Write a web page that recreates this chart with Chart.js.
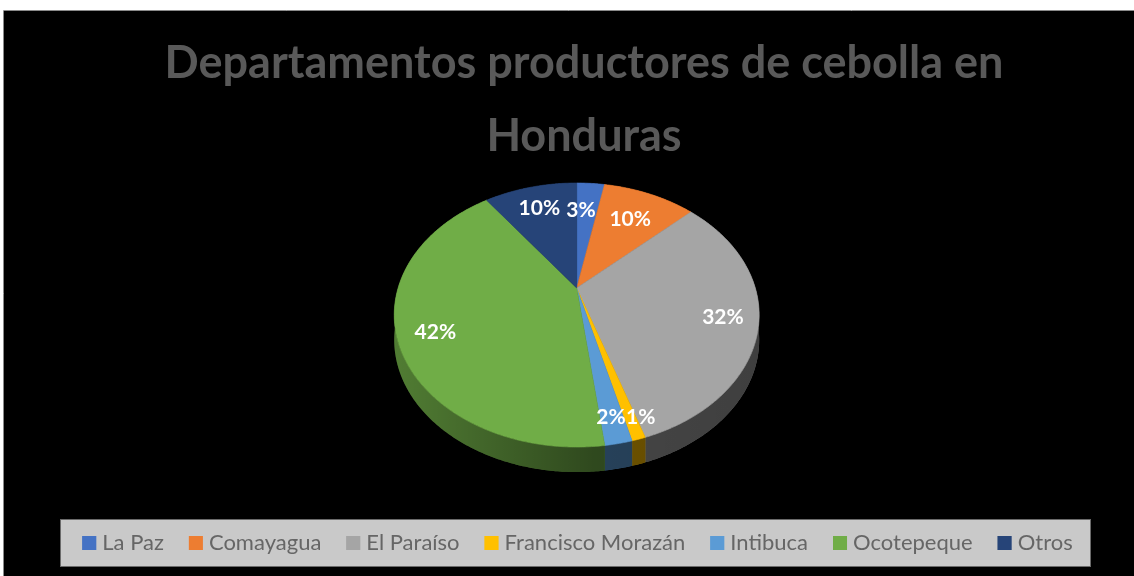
<!DOCTYPE html>
<html>
<head>
<meta charset="utf-8">
<style>
html,body{margin:0;padding:0;background:#fff;overflow:hidden}
#wrap{width:1134px;height:576px;position:relative}
canvas{display:block;filter:blur(0.55px)}
</style>
<script src="https://cdn.jsdelivr.net/npm/chart.js@4/dist/chart.umd.min.js"></script>
</head>
<body>
<div id="wrap"><canvas id="c" width="1134" height="576"></canvas></div>
<script>
const categories = ['La Paz','Comayagua','El Paraíso','Francisco Morazán','Intibuca','Ocotepeque','Otros'];
const values = [3,10,32,1,2,42,10];
const titleLines = ['Departamentos productores de cebolla en','Honduras'];
const colours = ['#4472C4','#ED7D31','#A5A5A5','#FFC000','#5B9BD5','#70AD47','#264478'];
const labelRadius = [0.70,0.70,0.80,0.92,0.85,0.80,0.78];
const labelNudge = [[-6,-1],[0,0],[2,3],[8,-7],[0,2],[0,5],[0,2]];

const P = {cx:576.7, cy:288, a:178.6, b:126.5, k:0.2046, depth:25};
function proj(theta, r){
  const u = Math.sin(theta)*r, v = -Math.cos(theta)*r, w = 1 - P.k*v;
  return [P.cx + P.a*u/w, P.cy + P.b*v/w];
}
function edge(arc){
  const s = arc.startAngle + Math.PI/2, e = arc.endAngle + Math.PI/2;
  const n = Math.max(4, Math.ceil((e-s)/0.01)), pts = [];
  for(let i=0;i<=n;i++) pts.push(proj(s+(e-s)*i/n,1));
  return pts;
}
const perspectivePie = {
  id:'perspectivePie',
  beforeDraw(chart){
    const c = chart.ctx;
    c.save();
    c.fillStyle='#ffffff'; c.fillRect(0,0,1134,576);
    c.fillStyle='#000000'; c.fillRect(4,11,1130,565);
    c.strokeStyle='#8a8a8a'; c.lineWidth=1;
    c.beginPath(); c.moveTo(3.5,576); c.lineTo(3.5,10.5); c.lineTo(1134,10.5); c.stroke();
    c.fillStyle='#C9C9C9'; c.fillRect(60,519,1031,48);
    c.strokeStyle='#6a6a6a'; c.strokeRect(60.5,519.5,1030,47);
    c.restore();
  },
  afterLayout(chart){
    chart.titleBlock.left += 34;
    chart.legend.left += 21;
  },
  beforeDatasetsDraw(chart){
    const c = chart.ctx, arcs = chart.getDatasetMeta(0).data;
    c.save();
    const shade = c.createLinearGradient(393,0,760,0);
    shade.addColorStop(0,'rgba(0,0,0,0.28)');
    shade.addColorStop(0.55,'rgba(0,0,0,0.58)');
    shade.addColorStop(1,'rgba(0,0,0,0.62)');
    arcs.forEach((arc,i)=>{
      const pts = edge(arc);
      c.beginPath();
      pts.forEach((p,j)=> j? c.lineTo(p[0],p[1]) : c.moveTo(p[0],p[1]));
      for(let j=pts.length-1;j>=0;j--) c.lineTo(pts[j][0],pts[j][1]+P.depth);
      c.closePath();
      c.fillStyle = colours[i]; c.fill();
      c.fillStyle = shade; c.fill();
    });
    arcs.forEach((arc,i)=>{
      const pts = edge(arc);
      c.beginPath();
      c.moveTo(P.cx,P.cy);
      pts.forEach(p=>c.lineTo(p[0],p[1]));
      c.closePath();
      c.fillStyle = colours[i]; c.fill();
      c.strokeStyle = colours[i]; c.lineWidth = 0.6; c.stroke();
    });
    c.restore();
    return false;
  },
  afterDraw(chart){
    const c = chart.ctx, arcs = chart.getDatasetMeta(0).data;
    c.save();
    chart.legend.legendHitBoxes.forEach((h,i)=>{
      c.fillStyle = colours[i];
      c.fillRect(h.left, h.top + (h.height-14)/2, 14, 14);
    });
    c.font = 'bold 21px Lato';
    c.fillStyle = '#ffffff';
    c.textAlign = 'center';
    c.textBaseline = 'middle';
    arcs.forEach((arc,i)=>{
      const mid = (arc.startAngle + arc.endAngle)/2 + Math.PI/2;
      const p = proj(mid, labelRadius[i]);
      c.fillText(values[i] + '%', p[0] + labelNudge[i][0], p[1] + labelNudge[i][1]);
    });
    c.restore();
  }
};
new Chart(document.getElementById('c'),{
  type:'pie',
  data:{labels:categories,datasets:[{data:values,backgroundColor:colours,borderWidth:0}]},
  plugins:[perspectivePie],
  options:{
    responsive:false,
    animation:false,
    layout:{padding:{bottom:12}},
    plugins:{
      tooltip:{enabled:false},
      title:{display:true,text:titleLines,color:'#595959',
        font:{family:'Lato',size:45,weight:'bold',lineHeight:73/45},
        padding:{top:27,bottom:4}},
      legend:{position:'bottom',align:'center',
        labels:{color:'#666666',font:{family:'Lato',size:22},boxWidth:9,boxHeight:14,padding:25}}
    }
  }
});
</script>
</body>
</html>
